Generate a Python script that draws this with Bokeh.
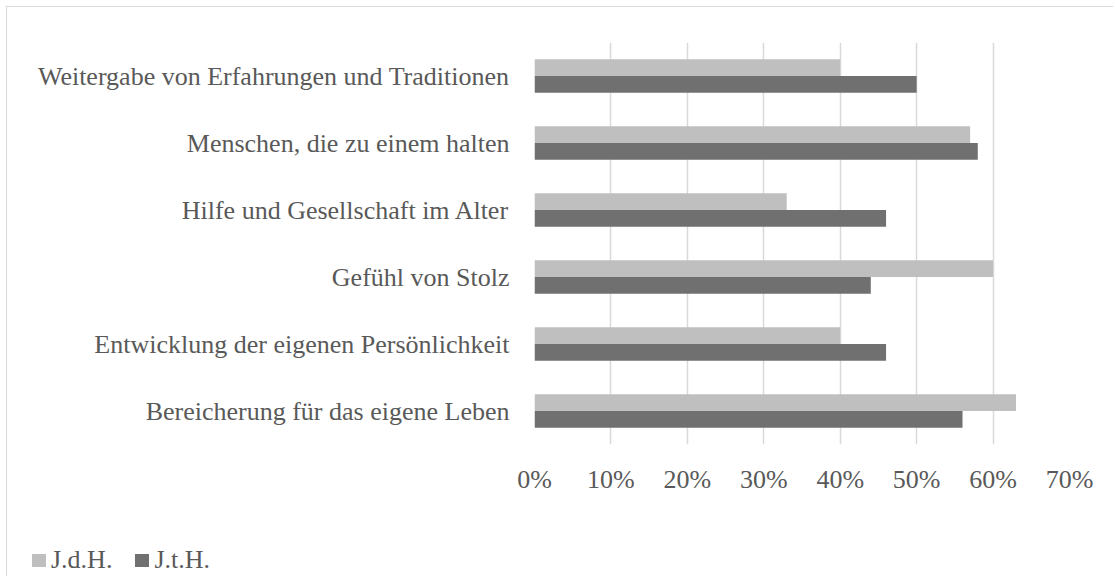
from bokeh.plotting import figure
from bokeh.layouts import column
from bokeh.models import (FactorRange, Range1d, FixedTicker, NumeralTickFormatter,
                          ColumnDataSource, Div)
from bokeh.transform import dodge
from bokeh.embed import file_html
from bokeh.resources import INLINE

categories = [
    "Weitergabe von Erfahrungen und Traditionen",
    "Menschen, die zu einem halten",
    "Hilfe und Gesellschaft im Alter",
    "Gefühl von Stolz",
    "Entwicklung der eigenen Persönlichkeit",
    "Bereicherung für das eigene Leben",
]
jdh = [0.40, 0.57, 0.33, 0.60, 0.40, 0.63]
jth = [0.50, 0.58, 0.46, 0.44, 0.46, 0.56]
series_names = ["J.d.H.", "J.t.H."]
series_colors = ["#bfbfbf", "#707070"]
x_ticks = [0, 0.1, 0.2, 0.3, 0.4, 0.5, 0.6, 0.7]

FONT = "Liberation Serif"
TXT = "#595959"
BORDER = "1px solid #d9d9d9"

src = ColumnDataSource(dict(cat=categories, jdh=jdh, jth=jth))

p = figure(
    width=1107, height=530,
    y_range=FactorRange(factors=categories[::-1], range_padding=0),
    x_range=Range1d(0, 0.7),
    output_backend="svg", toolbar_location=None,
    min_border_left=527, min_border_right=45, min_border_top=35, min_border_bottom=93,
    styles={"border-top": BORDER, "border-left": BORDER},
)

p.hbar(y=dodge("cat", 0.125, range=p.y_range), right="jdh", left=0, height=0.25,
       source=src, fill_color=series_colors[0], line_color=None)
p.hbar(y=dodge("cat", -0.125, range=p.y_range), right="jth", left=0, height=0.25,
       source=src, fill_color=series_colors[1], line_color=None)

p.outline_line_color = None
p.ygrid.grid_line_color = None
p.xgrid.grid_line_color = "#d9d9d9"
p.xgrid.grid_line_width = 1.5
p.xaxis.ticker = FixedTicker(ticks=x_ticks)
p.xaxis.formatter = NumeralTickFormatter(format="0%")
for ax in (p.xaxis[0], p.yaxis[0]):
    ax.axis_line_color = None
    ax.major_tick_line_color = None
    ax.minor_tick_line_color = None
    ax.major_label_text_font = FONT
    ax.major_label_text_font_size = "26px"
    ax.major_label_text_color = TXT
p.xaxis.major_label_standoff = 14
p.yaxis.major_label_standoff = 19

# legend strip (HTML) below the chart
def legend_entry(name, color, gap):
    return (f'<span style="display:inline-block;width:14px;height:13px;background:{color};'
            f'vertical-align:baseline;margin-left:{gap}px;margin-right:5px;margin-bottom:1px"></span>'
            f'<span>{name}</span>')

legend_html = (
    f'<div style="font-family:\'{FONT}\';font-size:26px;line-height:30px;color:{TXT};'
    f'white-space:nowrap;padding-top:9px;padding-left:0px">'
    + legend_entry(series_names[0], series_colors[0], 25)
    + legend_entry(series_names[1], series_colors[1], 23)
    + '</div>'
)
lg = Div(text=legend_html, width=1107, height=40, margin=(0, 0, 0, 0),
         styles={"border-left": BORDER})

layout = column(p, lg, spacing=0, styles={"margin-left": "6px", "margin-top": "6px"})

open("out.html", "w").write(file_html(layout, INLINE))
